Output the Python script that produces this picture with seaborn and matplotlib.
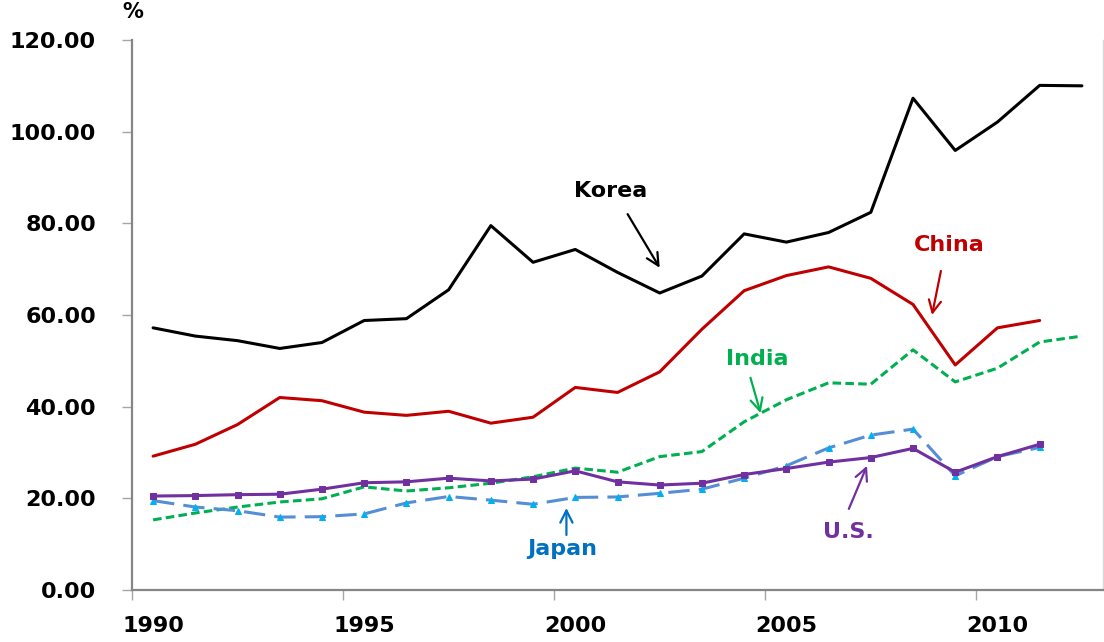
import matplotlib
matplotlib.use('Agg')
import matplotlib.pyplot as plt
import pandas as pd
import seaborn as sns
import numpy as np

# values (%), one per year
years = list(range(1990, 2013))
korea = [57.2, 55.4, 54.4, 52.7, 54.0, 58.8, 59.2, 65.5, 79.5, 71.5, 74.3, 69.3,
         64.8, 68.5, 77.7, 75.9, 78.0, 82.4, 107.3, 95.9, 102.1, 110.1, 110.0]
china = [29.2, 31.8, 36.1, 42.0, 41.3, 38.8, 38.1, 39.0, 36.4, 37.7, 44.2, 43.1,
         47.6, 56.9, 65.3, 68.6, 70.5, 68.0, 62.3, 49.1, 57.2, 58.8]
india = [15.3, 16.8, 18.1, 19.2, 19.9, 22.5, 21.6, 22.3, 23.3, 24.7, 26.6, 25.7,
         29.1, 30.2, 36.7, 41.5, 45.2, 44.9, 52.4, 45.4, 48.4, 54.1, 55.4]
japan = [19.5, 18.1, 17.3, 15.9, 16.0, 16.6, 19.0, 20.4, 19.6, 18.7, 20.2, 20.3,
         21.1, 22.0, 24.4, 27.1, 31.0, 33.8, 35.1, 24.9, 29.1, 31.1]
us = [20.5, 20.6, 20.8, 20.9, 22.0, 23.4, 23.6, 24.4, 23.8, 24.2, 26.0, 23.6,
      22.9, 23.3, 25.2, 26.5, 27.9, 28.9, 30.9, 25.7, 29.1, 31.8]
year_labels = ['1990', '1995', '2000', '2005', '2010']

sns.set_style('white')
plt.rcParams['font.family'] = ['DejaVu Sans']

fig = plt.figure(figsize=(11.04, 6.42), dpi=100)
ax = fig.add_axes([132 / 1104, 52 / 642, 971 / 1104, 550 / 642])

def series_df(vals):
    ''' category position + value frame for one country '''
    return pd.DataFrame({'pos': np.arange(len(vals)), 'val': vals})

sns.lineplot(data=series_df(korea), x='pos', y='val', ax=ax, color='black', lw=2.2)
sns.lineplot(data=series_df(china), x='pos', y='val', ax=ax, color='#C00000', lw=2.2)
sns.lineplot(data=series_df(india), x='pos', y='val', ax=ax, color='#00B050', lw=2.2,
             linestyle=(0, (2.8, 1.4)))
sns.lineplot(data=series_df(japan), x='pos', y='val', ax=ax, color='#558ED5', lw=2.2,
             linestyle=(0, (7, 3)), marker='^', markersize=5,
             markerfacecolor='#00B0F0', markeredgecolor='#00B0F0')
sns.lineplot(data=series_df(us), x='pos', y='val', ax=ax, color='#7030A0', lw=2.2,
             marker='s', markersize=4.5,
             markerfacecolor='#7030A0', markeredgecolor='#7030A0')

ax.set_xlim(-0.5, len(years) - 0.5)
ax.set_ylim(0, 120)
ax.set_xlabel('')
ax.set_ylabel('')

# Excel-style category axis: tick marks between categories, labels centred
ax.set_xticks([i - 0.5 for i in range(0, len(years), 5)])
ax.set_xticklabels([])
ax.set_xticks(list(range(0, len(years), 5)), minor=True)
ax.set_xticklabels(year_labels, minor=True)
ax.tick_params(axis='x', which='major', bottom=True, length=7, width=1,
               color='#A6A6A6', direction='out')
ax.tick_params(axis='x', which='minor', bottom=True, length=0, pad=19, labelsize=16,
               labelcolor='black')
ax.set_yticks(range(0, 121, 20))
ax.set_yticklabels(['%.2f' % v for v in range(0, 121, 20)])
ax.tick_params(axis='y', left=True, length=7, width=1, color='#A6A6A6', direction='out',
               pad=19, labelsize=16, labelcolor='black')
for lab in ax.get_xticklabels(minor=True) + ax.get_yticklabels():
    lab.set_fontweight('bold')

for side in ['left', 'bottom']:
    ax.spines[side].set_color('#868686')
    ax.spines[side].set_linewidth(1.6)
ax.spines['top'].set_visible(False)
ax.spines['right'].set_color('#D9D9D9')
ax.spines['right'].set_linewidth(1)

# labels with arrows
notes = [
    ('Korea', 'black', (10.83, 87.1), (11.24, 82.0), (12.0, 70.3)),
    ('China', '#C00000', (18.85, 75.3), (18.66, 69.6), (18.45, 60.0)),
    ('India', '#00B050', (14.30, 50.4), (14.15, 46.3), (14.39, 38.6)),
    ('Japan', '#0070C0', (9.70, 8.9), (9.79, 12.0), (9.79, 17.9)),
    ('U.S.', '#7030A0', (16.48, 12.7), (16.48, 17.7), (16.91, 27.1)),
]
for name, col, txt, start, end in notes:
    ax.text(txt[0], txt[1], name, color=col, fontsize=16, fontweight='bold',
            ha='center', va='center')
    ax.annotate('', xy=end, xytext=start,
                arrowprops=dict(arrowstyle='->', color=col, lw=1.6, mutation_scale=22,
                                shrinkA=0, shrinkB=0))

fig.text(133 / 1104, 1 - 12 / 642, '%', ha='center', va='center', fontsize=15,
         fontweight='bold', color='black')

fig.savefig('out.png', dpi=100)
